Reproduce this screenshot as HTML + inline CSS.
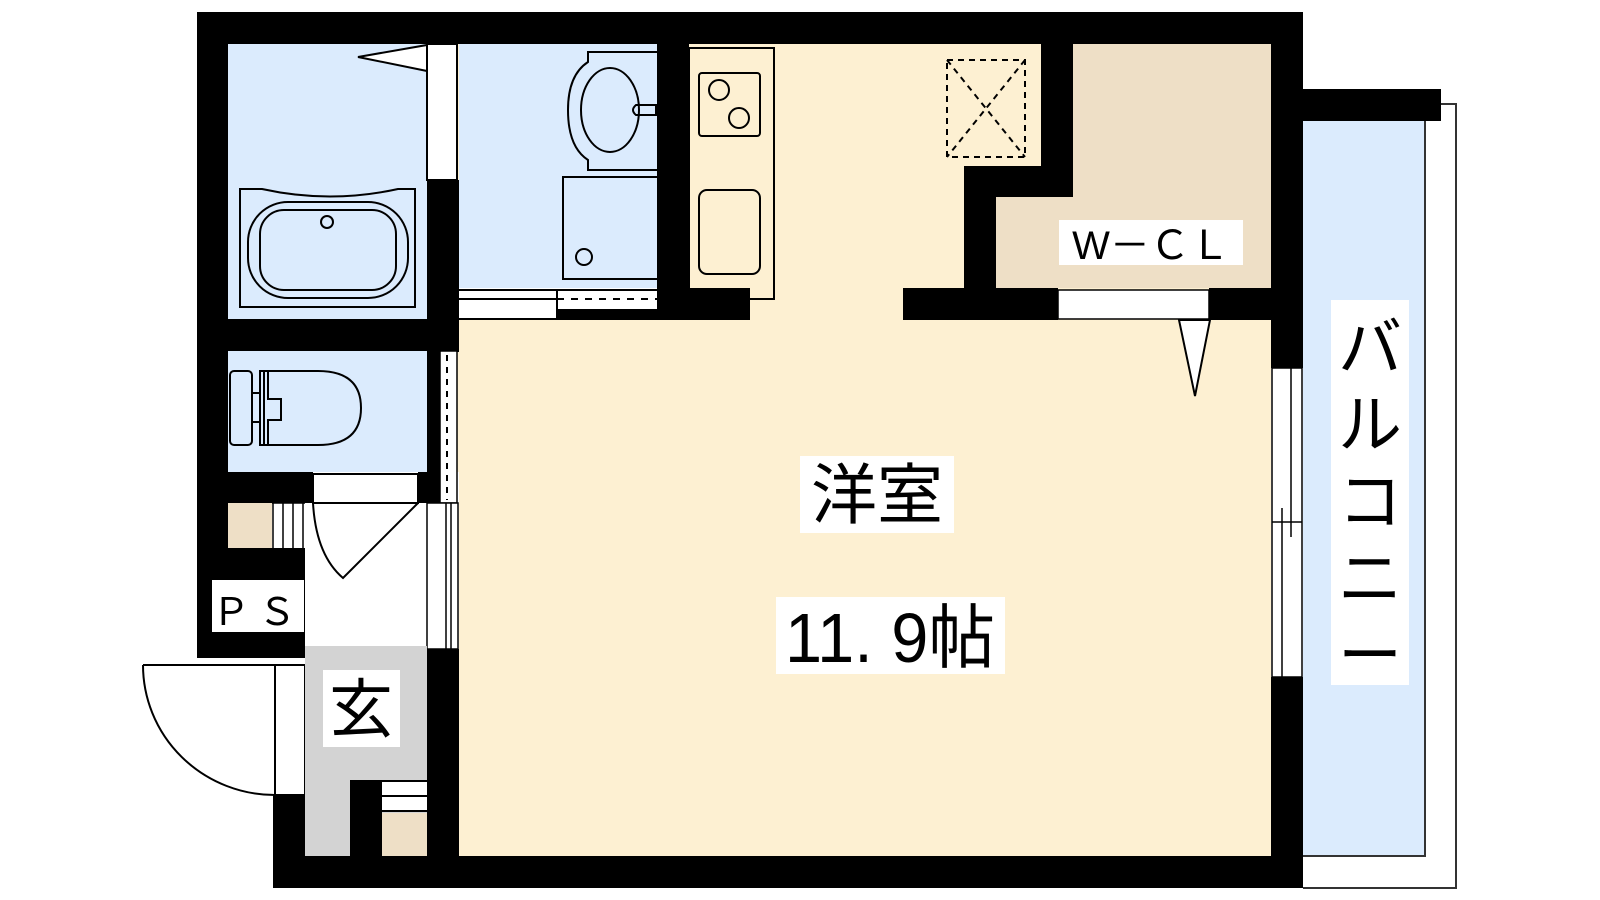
<!DOCTYPE html>
<html><head><meta charset="utf-8"><style>
html,body{margin:0;padding:0;background:#fff;}
svg{display:block;}
text{font-family:"Liberation Sans","Noto Sans CJK JP",sans-serif;fill:#000;}
</style></head><body>
<svg width="1600" height="900" viewBox="0 0 1600 900" xmlns="http://www.w3.org/2000/svg">
<rect x="228" y="44" width="1043" height="812" fill="#fdf0d2"/>
<rect x="228" y="44" width="199" height="275" fill="#dbebfd"/>
<rect x="459" y="44" width="198" height="244" fill="#dbebfd"/>
<rect x="459" y="288" width="198" height="32" fill="#fff"/>
<rect x="228" y="351" width="199" height="121" fill="#dbebfd"/>
<rect x="228" y="472" width="231" height="384" fill="#fff"/>
<rect x="1073" y="44" width="198" height="244" fill="#eedfc6"/>
<rect x="996" y="197" width="80" height="91" fill="#eedfc6"/>
<rect x="1303" y="121" width="122" height="735" fill="#dbebfd"/>
<path d="M1441 104 H1456 V888 H1303 M1425 121 V856 H1303" fill="none" stroke="#333" stroke-width="2"/>

<g fill="#000">
<rect x="197" y="12" width="1106" height="32"/>
<rect x="197" y="12" width="31" height="646"/>
<rect x="1271" y="12" width="32" height="356"/>
<rect x="1271" y="677" width="32" height="211"/>
<rect x="1303" y="89" width="138" height="32"/>
<rect x="273" y="856" width="1030" height="32"/>
<rect x="273" y="795" width="32" height="93"/>
<rect x="197" y="319" width="262" height="32"/>
<rect x="427" y="180" width="32" height="172"/>
<rect x="427" y="351" width="13" height="152"/>
<rect x="197" y="472" width="116" height="31"/>
<rect x="418" y="472" width="22" height="31"/>
<rect x="197" y="548" width="108" height="110"/>
<rect x="557" y="309" width="100" height="11"/>
<rect x="657" y="44" width="32" height="276"/>
<rect x="657" y="288" width="93" height="32"/>
<rect x="1041" y="44" width="32" height="153"/>
<rect x="964" y="166" width="109" height="31"/>
<rect x="964" y="166" width="32" height="154"/>
<rect x="903" y="288" width="155" height="32"/>
<rect x="1209" y="288" width="62" height="32"/>
<rect x="427" y="649" width="32" height="207"/>
</g>

<rect x="427" y="44" width="30" height="136" fill="#fff" stroke="#000" stroke-width="2"/>
<polygon points="358,57 427,45 427,71" fill="#fff" stroke="#000" stroke-width="2"/>
<g fill="none" stroke="#000" stroke-width="2">
<path d="M240 189 H262 Q330 204 398 189 H415 V307 H240 Z"/>
<rect x="248" y="202" width="160" height="96" rx="40"/>
<rect x="260" y="210" width="136" height="80" rx="24"/>
<circle cx="327" cy="222" r="6"/>
<path d="M657 52 H588 V62 Q568 75 568 110 Q568 147 588 160 V170 H657"/>
<ellipse cx="610" cy="110" rx="29" ry="42"/>
<path d="M656 105 H636 Q630 110 636 115 H656 Z"/>
<path d="M657 177 H563 V279 H657"/>
<circle cx="584" cy="257" r="8"/>
<path d="M459 290 H657 M459 299 H557 M459 319 H557"/>
<path d="M557 290 V319"/>
<path d="M557 299 H657" stroke-dasharray="7 7"/>
<rect x="230" y="371" width="22" height="74" rx="4"/>
<path d="M252 393 H260 M252 422 H260"/>
<path d="M264 371 V445 M264 371 H318 Q361 371 361 408 Q361 445 318 445 H264"/>
<path d="M260 371 H268 V399 H281 V420 H268 V445 H260 Z" fill="none"/>
<rect x="689" y="48" width="85" height="251"/>
<rect x="699" y="73" width="61" height="63" rx="3"/>
<circle cx="719" cy="90" r="10"/>
<circle cx="739" cy="118" r="10"/>
<rect x="699" y="190" width="61" height="84" rx="8"/>
</g>
<g fill="none" stroke="#000" stroke-width="2" stroke-dasharray="6 5">
<rect x="947" y="60" width="78" height="97"/>
<path d="M947 60 L1025 157 M1025 60 L947 157"/>
</g>
<rect x="440" y="351" width="17" height="152" fill="#fff" stroke="#000" stroke-width="1.5"/>
<path d="M447 355 V500" stroke="#000" stroke-width="2" stroke-dasharray="6 6"/>
<rect x="313" y="474" width="105" height="29" fill="#fff" stroke="#000" stroke-width="2"/>
<path d="M313 503 Q316 555 343 578 L418 503" fill="none" stroke="#000" stroke-width="2"/>
<rect x="427" y="503" width="31" height="146" fill="#fff" stroke="#000" stroke-width="1.5"/>
<path d="M446 503 V649 M451 503 V649" stroke="#000" stroke-width="1.5"/>
<rect x="228" y="503" width="44" height="45" fill="#eedfc6"/>
<path d="M272 503 H305 M273 503 V548 M283 503 V548 M293 503 V548 M303 503 V548" stroke="#000" stroke-width="1.5" fill="none"/>
<rect x="212" y="580" width="92" height="52" fill="#fff"/>
<text x="258" y="625" font-size="38" text-anchor="middle" letter-spacing="8">ＰＳ</text>
<rect x="275" y="665" width="30" height="130" fill="#fff" stroke="#000" stroke-width="2"/>
<path d="M143 665 H275 M143 665 A132 130 0 0 0 275 795" fill="none" stroke="#000" stroke-width="2"/>
<rect x="305" y="646" width="122" height="210" fill="#d3d3d3"/>
<rect x="350" y="780" width="32" height="76" fill="#000"/>
<rect x="382" y="780" width="45" height="32" fill="#fff"/>
<path d="M382 781 H427 M382 796 H427 M382 811 H427" stroke="#000" stroke-width="2"/>
<rect x="382" y="813" width="45" height="43" fill="#eedfc6"/>
<rect x="323" y="670" width="77" height="77" fill="#fff"/>
<text x="361" y="732" font-size="64" text-anchor="middle">玄</text>
<rect x="1058" y="290" width="151" height="29" fill="#fff" stroke="#000" stroke-width="1.5"/>
<polygon points="1179,320 1195,396 1210,320" fill="#fff" stroke="#000" stroke-width="2"/>
<rect x="1059" y="220" width="184" height="45" fill="#fff"/>
<text x="1151" y="259" font-size="40" text-anchor="middle">W－ＣＬ</text>
<rect x="1272" y="368" width="30" height="309" fill="#fff" stroke="#000" stroke-width="1.5"/>
<path d="M1282 508 V677 M1291 368 V537 M1272 522 H1302" stroke="#000" stroke-width="1.5"/>
<rect x="1331" y="300" width="78" height="385" fill="#fff"/>
<text font-size="64" text-anchor="middle"><tspan x="1370" y="370">バ</tspan><tspan x="1370" y="447">ル</tspan><tspan x="1370" y="524">コ</tspan><tspan x="1370" y="601">ニ</tspan><tspan x="1370" y="678">ー</tspan></text>
<rect x="800" y="456" width="154" height="77" fill="#fff"/>
<text x="877" y="518" font-size="66" text-anchor="middle">洋室</text>
<rect x="776" y="597" width="229" height="77" fill="#fff"/>
<text x="890" y="662" font-size="70" text-anchor="middle" textLength="210" lengthAdjust="spacingAndGlyphs">11. 9帖</text>
</svg>
</body></html>
